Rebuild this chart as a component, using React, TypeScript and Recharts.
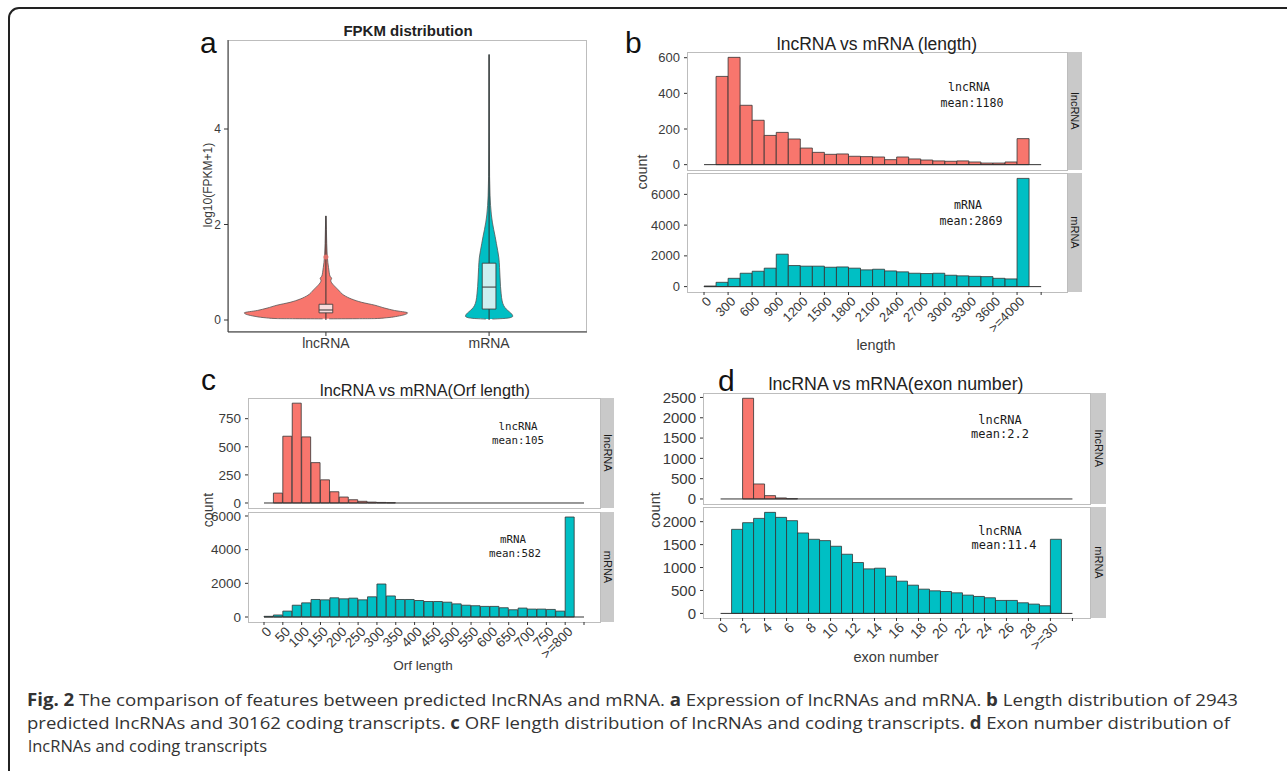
import React from "react";
import {
  BarChart,
  Bar,
  XAxis,
  YAxis,
  ReferenceLine,
  ReferenceArea,
  ReferenceDot,
  ComposedChart,
  Area,
} from "recharts";

const W = 1287;
const H = 771;
const RED = "#F8766D";
const CYAN = "#00BFC4";
const INK = "#333333";
const TXT = "#3a3a3a";
const FONT = "'Liberation Sans', Arial, Helvetica, sans-serif";
const MONO = "'DejaVu Sans Mono', monospace";

// ---- panel a: violin outlines (y = log10(FPKM+1), w = half width in category units)
const lncViolin = [
  { y: 0.025, w: 0.02 }, { y: 0.03, w: 0.3 }, { y: 0.05, w: 0.38 }, { y: 0.08, w: 0.44 },
  { y: 0.11, w: 0.48 }, { y: 0.15, w: 0.5 }, { y: 0.2, w: 0.42 }, { y: 0.25, w: 0.36 },
  { y: 0.31, w: 0.3 }, { y: 0.37, w: 0.22 }, { y: 0.44, w: 0.157 }, { y: 0.52, w: 0.11 },
  { y: 0.63, w: 0.076 }, { y: 0.72, w: 0.05 }, { y: 0.78, w: 0.035 }, { y: 0.83, w: 0.03 },
  { y: 0.87, w: 0.035 }, { y: 0.92, w: 0.025 }, { y: 1.0, w: 0.02 }, { y: 1.1, w: 0.016 },
  { y: 1.2, w: 0.012 }, { y: 1.35, w: 0.008 }, { y: 1.6, w: 0.005 }, { y: 1.9, w: 0.003 },
  { y: 2.18, w: 0.001 },
];
const mrnaViolin = [
  { y: 0.02, w: 0.02 }, { y: 0.03, w: 0.08 }, { y: 0.05, w: 0.13 }, { y: 0.08, w: 0.145 },
  { y: 0.12, w: 0.14 }, { y: 0.17, w: 0.125 }, { y: 0.23, w: 0.105 }, { y: 0.3, w: 0.09 },
  { y: 0.4, w: 0.08 }, { y: 0.55, w: 0.074 }, { y: 0.7, w: 0.07 }, { y: 0.9, w: 0.067 },
  { y: 1.1, w: 0.064 }, { y: 1.3, w: 0.06 }, { y: 1.45, w: 0.053 }, { y: 1.6, w: 0.045 },
  { y: 1.75, w: 0.037 }, { y: 1.9, w: 0.028 }, { y: 2.05, w: 0.02 }, { y: 2.2, w: 0.014 },
  { y: 2.4, w: 0.009 }, { y: 2.6, w: 0.006 }, { y: 3.0, w: 0.003 }, { y: 4.0, w: 0.0015 },
  { y: 5.56, w: 0.001 },
];
const violinCats = ["lncRNA", "mRNA"];
const boxStats = [
  { pos: 1, lo: 0, q1: 0.15, med: 0.21, q3: 0.33, hi: 2.18, fill: "#f9dcdc" },
  { pos: 2, lo: 0, q1: 0.23, med: 0.69, q3: 1.19, hi: 5.56, fill: "#cdeff0" },
];
const lncOutliers = [1.32];

// ---- histograms
const lncLength = [0, 495, 602, 333, 249, 164, 181, 144, 93, 69, 58, 60, 47, 45, 43, 28, 43, 32, 26, 21, 19, 21, 15, 9, 9, 15, 146, 0];
const mrnaLength = [40, 280, 540, 870, 1000, 1200, 2110, 1370, 1330, 1330, 1260, 1280, 1200, 1090, 1130, 1020, 960, 870, 850, 870, 740, 700, 670, 650, 540, 500, 7040, 0];
const lengthTicks = [0, 300, 600, 900, 1200, 1500, 1800, 2100, 2400, 2700, 3000, 3300, 3600, 3900, 4200];
const lengthLabels = ["0", "300", "600", "900", "1200", "1500", "1800", "2100", "2400", "2700", "3000", "3300", "3600", ">=4000", ""];

const lncOrf = [0, 88, 594, 888, 588, 359, 206, 100, 53, 29, 15, 8, 5, 3, 0, 0, 0, 0, 0, 0, 0, 0, 0, 0, 0, 0, 0, 0, 0, 0, 0, 0, 0, 0];
const mrnaOrf = [40, 120, 350, 700, 840, 1040, 1020, 1140, 1080, 1120, 1020, 1200, 1960, 1250, 1040, 1040, 980, 920, 920, 880, 780, 700, 670, 630, 630, 550, 430, 530, 470, 470, 450, 350, 5940, 0];
const orfTicks = [0, 50, 100, 150, 200, 250, 300, 350, 400, 450, 500, 550, 600, 650, 700, 750, 800, 850];
const orfLabels = ["0", "50", "100", "150", "200", "250", "300", "350", "400", "450", "500", "550", "600", "650", "700", "750", ">=800", ""];

const lncExon = [0, 0, 2480, 369, 82, 25, 8, 0, 0, 0, 0, 0, 0, 0, 0, 0, 0, 0, 0, 0, 0, 0, 0, 0, 0, 0, 0, 0, 0, 0, 0, 0];
const mrnaExon = [0, 1833, 1978, 2072, 2203, 2094, 2022, 1754, 1616, 1587, 1464, 1290, 1109, 971, 986, 812, 703, 616, 529, 493, 478, 449, 399, 370, 341, 283, 283, 232, 203, 167, 1616, 0];
const exonTicks = [0, 2, 4, 6, 8, 10, 12, 14, 16, 18, 20, 22, 24, 26, 28, 30, 32];
const exonLabels = ["0", "2", "4", "6", "8", "10", "12", "14", "16", "18", "20", "22", "24", "26", "28", ">=30", ""];

const toBins = (counts: number[], width: number) =>
  counts.map((n, i) => ({ x: (i + 0.5) * width, n }));

function SlantTick(props: any) {
  const { x, y, payload, values, labels, fs } = props;
  const i = values.indexOf(payload.value);
  const label = i >= 0 ? labels[i] : "";
  const ax = x + 5;
  const ay = y + 2;
  return (
    <text x={ax} y={ay} dy="0.35em" textAnchor="end" transform={`rotate(-45 ${ax} ${ay})`}
      fontSize={fs} fontFamily={FONT} fill={TXT}>
      {label}
    </text>
  );
}

type FacetProps = {
  counts: number[];
  width: number;
  color: string;
  rect: [number, number, number, number];
  xDomain: [number, number];
  yDomain: [number, number];
  yTicks: number[];
  baseEnd: number;
  yFs: number;
  xTicks?: number[];
  xLabels?: string[];
  xFs?: number;
};

function Facet({ counts, width, color, rect, xDomain, yDomain, yTicks, baseEnd, yFs, xTicks, xLabels, xFs }: FacetProps) {
  const [L, T, R, B] = rect;
  const yw = 50;
  const xh = 60;
  const showX = !!xTicks;
  return (
    <div style={{ position: "absolute", left: 0, top: 0 }}>
      <BarChart
        width={W}
        height={H}
        data={toBins(counts, width)}
        barCategoryGap={0}
        barGap={0}
        margin={{ top: T, left: L - yw, right: W - R, bottom: H - B - (showX ? xh : 0) }}
      >
        <XAxis
          type="number"
          dataKey="x"
          domain={xDomain}
          allowDataOverflow
          hide={!showX}
          ticks={xTicks}
          interval={0}
          height={xh}
          axisLine={false}
          tickLine={{ stroke: INK }}
          tickSize={3}
          tick={<SlantTick values={xTicks || []} labels={xLabels || []} fs={xFs} />}
        />
        <YAxis
          type="number"
          domain={yDomain}
          allowDataOverflow
          ticks={yTicks}
          interval={0}
          width={yw}
          axisLine={false}
          tickLine={{ stroke: INK }}
          tickSize={3}
          tickMargin={4}
          tick={{ fill: TXT, fontSize: yFs, fontFamily: FONT }}
        />
        <Bar dataKey="n" fill={color} stroke={INK} strokeWidth={0.8} isAnimationActive={false} />
        <ReferenceLine segment={[{ x: 0, y: 0 }, { x: baseEnd, y: 0 }]} stroke={INK} strokeWidth={1} />
      </BarChart>
    </div>
  );
}

function ViolinPanel() {
  const yw = 30;
  const xh = 30;
  return (
    <div style={{ position: "absolute", left: 0, top: 0 }}>
      <ComposedChart
        layout="vertical"
        width={W}
        height={H}
        margin={{ top: 40, left: 228 - yw, right: W - 587, bottom: H - 332 - xh }}
      >
        <XAxis
          type="number"
          domain={[0.4, 2.6]}
          allowDataOverflow
          ticks={[1, 2]}
          interval={0}
          height={xh}
          tickFormatter={(v: number) => violinCats[v - 1]}
          axisLine={{ stroke: INK }}
          tickLine={{ stroke: INK }}
          tickSize={4}
          tick={{ fill: TXT, fontSize: 14, fontFamily: FONT }}
        />
        <YAxis
          type="number"
          dataKey="y"
          reversed
          domain={[-0.251, 5.864]}
          allowDataOverflow
          ticks={[0, 2, 4]}
          interval={0}
          width={yw}
          axisLine={{ stroke: INK }}
          tickLine={{ stroke: INK }}
          tickSize={4}
          tickMargin={3}
          tick={{ fill: TXT, fontSize: 12, fontFamily: FONT }}
        />
        <Area
          data={lncViolin}
          dataKey={(d: any) => [1 - d.w, 1 + d.w]}
          type="monotone"
          fill={RED}
          fillOpacity={1}
          stroke="#555"
          strokeWidth={0.8}
          isAnimationActive={false}
        />
        <Area
          data={mrnaViolin}
          dataKey={(d: any) => [2 - d.w, 2 + d.w]}
          type="monotone"
          fill={CYAN}
          fillOpacity={1}
          stroke="#555"
          strokeWidth={0.8}
          isAnimationActive={false}
        />
        {boxStats.map((b) => (
          <ReferenceLine
            key={`w${b.pos}`}
            segment={[{ x: b.pos, y: b.lo }, { x: b.pos, y: b.hi }]}
            stroke={INK}
            strokeWidth={1}
            zIndex={450}
          />
        ))}
        {boxStats.map((b) => (
          <ReferenceArea
            key={`b${b.pos}`}
            x1={b.pos - 0.042}
            x2={b.pos + 0.042}
            y1={b.q1}
            y2={b.q3}
            fill={b.fill}
            fillOpacity={1}
            stroke={INK}
            strokeWidth={0.8}
            zIndex={460}
          />
        ))}
        {boxStats.map((b) => (
          <ReferenceLine
            key={`m${b.pos}`}
            segment={[{ x: b.pos - 0.042, y: b.med }, { x: b.pos + 0.042, y: b.med }]}
            stroke={INK}
            strokeWidth={1}
            zIndex={470}
          />
        ))}
        {lncOutliers.map((v) => (
          <ReferenceDot key={`o${v}`} x={1} y={v} r={2.5} fill="#e0716b" stroke="none" zIndex={480} />
        ))}
      </ComposedChart>
    </div>
  );
}

function Decor() {
  const border = "#bdbdbd";
  const strip = "#c9c9c9";
  const panels: [number, number, number, number][] = [
    [687, 52, 1067, 170], [687, 173, 1067, 292],
    [248, 398, 600, 508], [248, 512, 600, 622],
    [703, 393, 1090, 504], [703, 507, 1090, 618],
  ];
  const strips: [number, number, number, number, string][] = [
    [1067, 52, 1081, 170, "lncRNA"], [1067, 173, 1081, 292, "mRNA"],
    [600, 398, 613, 508, "lncRNA"], [600, 512, 613, 622, "mRNA"],
    [1090, 393, 1105, 504, "lncRNA"], [1090, 507, 1105, 618, "mRNA"],
  ];
  return (
    <svg width={W} height={H} style={{ position: "absolute", left: 0, top: 0 }}>
      <rect x={9} y={8} width={1300} height={800} rx={10} fill="#fff" stroke="#222" strokeWidth={2} />
      <rect x={228.5} y={40.5} width={358} height={291} fill="#fff" stroke={border} />
      {panels.map(([l, t, r, b], i) => (
        <rect key={i} x={l + 0.5} y={t + 0.5} width={r - l} height={b - t} fill="#fff" stroke={border} />
      ))}
      {strips.map(([l, t, r, b, s], i) => (
        <g key={i}>
          <rect x={l + 1} y={t} width={r - l} height={b - t} fill={strip} />
          <text
            x={(l + r) / 2 + 1}
            y={(t + b) / 2}
            transform={`rotate(90 ${(l + r) / 2 + 1} ${(t + b) / 2})`}
            textAnchor="middle"
            dominantBaseline="central"
            fontSize={11}
            fontFamily={FONT}
            fill="#1a1a1a"
          >
            {s}
          </text>
        </g>
      ))}
    </svg>
  );
}

function Texts() {
  const letter = { fontFamily: FONT, fontSize: 30, fill: "#111" };
  const ttl = { fontFamily: FONT, fill: "#222", textAnchor: "middle" as const };
  const ann = { fontFamily: MONO, fill: "#1a1a1a", textAnchor: "middle" as const };
  return (
    <svg width={W} height={H} style={{ position: "absolute", left: 0, top: 0 }}>
      <text x={200} y={53} {...letter}>a</text>
      <text x={625} y={53} {...letter}>b</text>
      <text x={201} y={390} {...letter}>c</text>
      <text x={718} y={391} {...letter}>d</text>

      <text x={408} y={36} {...ttl} fontSize={15} fontWeight={700}>FPKM distribution</text>
      <text x={877} y={50} {...ttl} fontSize={17.5}>lncRNA vs mRNA (length)</text>
      <text x={425} y={396} {...ttl} fontSize={16.3}>lncRNA vs mRNA(Orf length)</text>
      <text x={896} y={390} {...ttl} fontSize={17.8}>lncRNA vs mRNA(exon number)</text>

      <text x={212} y={185} {...ttl} fill={TXT} fontSize={12} transform="rotate(-90 212 185)">log10(FPKM+1)</text>
      <text x={647} y={172} {...ttl} fill={TXT} fontSize={14.3} transform="rotate(-90 647 172)">count</text>
      <text x={213} y={510} {...ttl} fill={TXT} fontSize={14} transform="rotate(-90 213 510)">count</text>
      <text x={660} y={510} {...ttl} fill={TXT} fontSize={14.5} transform="rotate(-90 660 510)">count</text>
      <text x={876} y={350} {...ttl} fill={TXT} fontSize={14.4}>length</text>
      <text x={423} y={670} {...ttl} fill={TXT} fontSize={13.5}>Orf length</text>
      <text x={896} y={662} {...ttl} fill={TXT} fontSize={14.6}>exon number</text>

      <text x={969} y={91} {...ann} fontSize={11.6}>lncRNA</text>
      <text x={972} y={107} {...ann} fontSize={11.6}>mean:1180</text>
      <text x={968} y={209} {...ann} fontSize={11.6}>mRNA</text>
      <text x={971} y={225} {...ann} fontSize={11.6}>mean:2869</text>
      <text x={518} y={430} {...ann} fontSize={10.8}>lncRNA</text>
      <text x={518} y={444} {...ann} fontSize={10.8}>mean:105</text>
      <text x={513} y={543} {...ann} fontSize={10.8}>mRNA</text>
      <text x={515} y={557} {...ann} fontSize={10.8}>mean:582</text>
      <text x={1000} y={424} {...ann} fontSize={12}>lncRNA</text>
      <text x={1000} y={438} {...ann} fontSize={12}>mean:2.2</text>
      <text x={1000} y={535} {...ann} fontSize={12}>lncRNA</text>
      <text x={1004} y={549} {...ann} fontSize={12}>mean:11.4</text>

      <g fontFamily="'Open Sans', sans-serif" fontSize={17} fill="#333">
        <text x={27} y={706} textLength={1211} lengthAdjust="spacingAndGlyphs">
          <tspan fontWeight={700}>Fig. 2</tspan> The comparison of features between predicted lncRNAs and mRNA.{" "}
          <tspan fontWeight={700}>a</tspan> Expression of lncRNAs and mRNA. <tspan fontWeight={700}>b</tspan> Length
          distribution of 2943
        </text>
        <text x={27} y={729} textLength={1203} lengthAdjust="spacingAndGlyphs">
          predicted lncRNAs and 30162 coding transcripts. <tspan fontWeight={700}>c</tspan> ORF length distribution of
          lncRNAs and coding transcripts. <tspan fontWeight={700}>d</tspan> Exon number distribution of
        </text>
        <text x={28} y={752} textLength={239} lengthAdjust="spacingAndGlyphs">
          lncRNAs and coding transcripts
        </text>
      </g>
    </svg>
  );
}

export default function App() {
  return (
    <div style={{ position: "absolute", left: 0, top: 0, width: W, height: H, background: "#fff", overflow: "hidden" }}>
      <Decor />
      <ViolinPanel />
      <Facet counts={lncLength} width={150} color={RED} rect={[687, 52, 1067, 170]} xDomain={[-212, 4522]}
        yDomain={[-30, 632]} yTicks={[0, 200, 400, 600]} baseEnd={4200} yFs={13} />
      <Facet counts={mrnaLength} width={150} color={CYAN} rect={[687, 173, 1067, 292]} xDomain={[-212, 4522]}
        yDomain={[-350, 7390]} yTicks={[0, 2000, 4000, 6000]} baseEnd={4200} yFs={13}
        xTicks={lengthTicks} xLabels={lengthLabels} xFs={13} />
      <Facet counts={lncOrf} width={25} color={RED} rect={[248, 398, 600, 508]} xDomain={[-42.5, 892.5]}
        yDomain={[-44.5, 934]} yTicks={[0, 250, 500, 750]} baseEnd={850} yFs={13.5} />
      <Facet counts={mrnaOrf} width={25} color={CYAN} rect={[248, 512, 600, 622]} xDomain={[-42.5, 892.5]}
        yDomain={[-297, 6237]} yTicks={[0, 2000, 4000, 6000]} baseEnd={850} yFs={13.5}
        xTicks={orfTicks} xLabels={orfLabels} xFs={13.5} />
      <Facet counts={lncExon} width={1} color={RED} rect={[703, 393, 1090, 504]} xDomain={[-1.6, 33.6]}
        yDomain={[-124, 2610]} yTicks={[0, 500, 1000, 1500, 2000, 2500]} baseEnd={32} yFs={15} />
      <Facet counts={mrnaExon} width={1} color={CYAN} rect={[703, 507, 1090, 618]} xDomain={[-1.6, 33.6]}
        yDomain={[-100, 2320]} yTicks={[0, 500, 1000, 1500, 2000]} baseEnd={32} yFs={15}
        xTicks={exonTicks} xLabels={exonLabels} xFs={14} />
      <Texts />
    </div>
  );
}
